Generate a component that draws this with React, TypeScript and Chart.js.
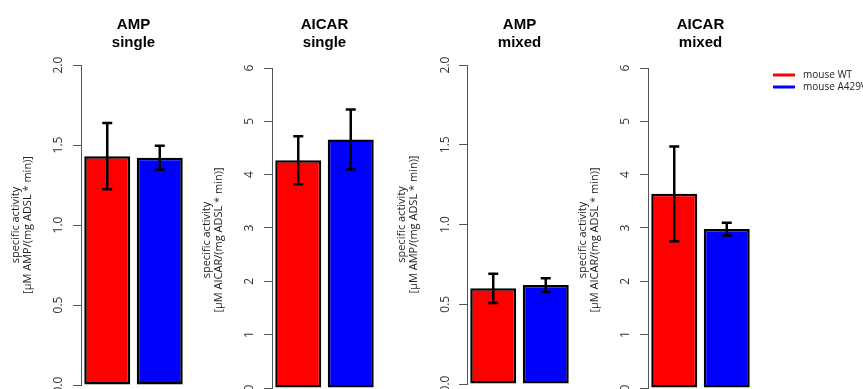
import React, { useEffect, useRef } from "react";
import { Chart, registerables } from "chart.js";

Chart.register(...registerables);

// ---- data ----
const seriesNames = ["mouse WT", "mouse A429V"];
const seriesColors = ["#FF0000", "#0000FF"];
const panelTitles = [
  ["AMP", "single"],
  ["AICAR", "single"],
  ["AMP", "mixed"],
  ["AICAR", "mixed"],
];
const axisTitles = [
  ["specific activity", "[µM AMP/(mg ADSL * min)]"],
  ["specific activity", "[µM AICAR/(mg ADSL * min)]"],
  ["specific activity", "[µM AMP/(mg ADSL * min)]"],
  ["specific activity", "[µM AICAR/(mg ADSL * min)]"],
];
const wtMeans = [1.43, 4.27, 0.6, 3.64];
const wtErrors = [0.207, 0.45, 0.092, 0.89];
const a429vMeans = [1.42, 4.66, 0.62, 2.98];
const a429vErrors = [0.075, 0.56, 0.043, 0.12];
const ampTicks = [0, 0.5, 1, 1.5, 2];
const aicarTicks = [0, 1, 2, 3, 4, 5, 6];
const panelTicks = [ampTicks, aicarTicks, ampTicks, aicarTicks];
const tickDecimals = [1, 0, 1, 0];
const axisMax = [2, 6, 2, 6];

// ---- layout (positions / sizes) ----
const CANVAS_H = 430;
const AXIS_W = 81;
const PLOT_W = 105;
const TICK_LEN = 8;
const panelLayout = [
  { axisX: 81, min: 0, titleBottom: 13, padBottom: 45, tickOffset: 22, padRight: 0 },
  { axisX: 272, min: -0.45, titleBottom: 16, padBottom: 18, tickOffset: 22, padRight: 0 },
  { axisX: 467, min: 0, titleBottom: 13, padBottom: 46, tickOffset: 21, padRight: 0 },
  { axisX: 648, min: -0.45, titleBottom: 16, padBottom: 18, tickOffset: 22, padRight: 110 },
];

Chart.defaults.font.family = "'Open Sans', 'DejaVu Sans', sans-serif";

const errorBarPlugin = {
  id: "errorBars",
  afterDatasetsDraw(chart: any) {
    const ctx = chart.ctx;
    const yScale = chart.scales.y;
    chart.data.datasets.forEach((ds: any, di: number) => {
      const meta = chart.getDatasetMeta(di);
      meta.data.forEach((bar: any, i: number) => {
        const v = ds.data[i];
        const e = ds.errors[i];
        const yTop = yScale.getPixelForValue(v + e);
        const yBot = yScale.getPixelForValue(v - e);
        ctx.save();
        ctx.strokeStyle = "#000";
        ctx.lineWidth = 2.5;
        ctx.lineCap = "butt";
        ctx.beginPath();
        ctx.moveTo(bar.x, yTop);
        ctx.lineTo(bar.x, yBot);
        ctx.moveTo(bar.x - 5, yTop);
        ctx.lineTo(bar.x + 5, yTop);
        ctx.moveTo(bar.x - 5, yBot);
        ctx.lineTo(bar.x + 5, yBot);
        ctx.stroke();
        ctx.restore();
      });
    });
  },
};

const sideLegendPlugin = {
  id: "sideLegend",
  afterDraw(chart: any) {
    const ctx = chart.ctx;
    const { right, top } = chart.chartArea;
    ctx.save();
    seriesNames.forEach((name, i) => {
      const y = top + 7 + i * 12;
      ctx.strokeStyle = seriesColors[i];
      ctx.lineWidth = 3;
      ctx.beginPath();
      ctx.moveTo(right + 20, y);
      ctx.lineTo(right + 42, y);
      ctx.stroke();
      ctx.fillStyle = "#222";
      ctx.font = "10px 'Open Sans', sans-serif";
      ctx.textBaseline = "middle";
      ctx.textAlign = "left";
      ctx.fillText(name, right + 50, y);
    });
    ctx.restore();
  },
};

function Panel({ index }: { index: number }) {
  const ref = useRef<HTMLCanvasElement | null>(null);
  const L = panelLayout[index];
  const width = AXIS_W + PLOT_W + L.padRight;
  useEffect(() => {
    if (!ref.current) return;
    const widestGuess = tickDecimals[index] === 1 ? 16.8 : 6.9;
    const chart = new Chart(ref.current, {
      type: "bar",
      data: {
        labels: seriesNames,
        datasets: [
          {
            label: panelTitles[index].join(" "),
            data: [wtMeans[index], a429vMeans[index]],
            errors: [wtErrors[index], a429vErrors[index]],
            backgroundColor: seriesColors,
            borderColor: "#000",
            borderWidth: 2.5,
            borderSkipped: false,
            categoryPercentage: 0.876,
            barPercentage: 1,
          } as any,
        ],
      },
      options: {
        responsive: false,
        animation: false,
        devicePixelRatio: 1,
        layout: { padding: { top: 0, left: 0, right: L.padRight, bottom: L.padBottom } },
        plugins: {
          legend: { display: false },
          tooltip: { enabled: false },
          title: {
            display: true,
            text: panelTitles[index],
            fullSize: false,
            color: "#000",
            font: { family: "'Liberation Sans', Arial, sans-serif", size: 15, weight: "bold", lineHeight: 1.2 },
            padding: { top: 16, bottom: L.titleBottom },
          },
        },
        scales: {
          x: { display: false },
          y: {
            min: L.min,
            max: axisMax[index],
            afterBuildTicks: (s: any) => {
              s.ticks = panelTicks[index].map((v) => ({ value: v }));
            },
            afterFit: (s: any) => {
              s.width = AXIS_W;
            },
            border: { display: true, color: "#555", width: 1 },
            grid: { drawOnChartArea: false, drawTicks: true, tickLength: TICK_LEN, color: "#555" },
            ticks: {
              minRotation: 90,
              maxRotation: 90,
              crossAlign: "center",
              padding: L.tickOffset - TICK_LEN - widestGuess / 2,
              color: "#333",
              font: { size: 12 },
              callback: (v: any) => Number(v).toFixed(tickDecimals[index]),
            },
            title: {
              display: true,
              text: axisTitles[index],
              color: "#222",
              font: { size: 11, lineHeight: 1.1 },
              padding: { top: 10, bottom: 0 },
            },
          } as any,
        },
      },
      plugins: index === 3 ? [errorBarPlugin, sideLegendPlugin] : [errorBarPlugin],
    } as any);
    return () => chart.destroy();
  }, [index]);
  return (
    <canvas
      ref={ref}
      width={width}
      height={CANVAS_H}
      style={{
        position: "absolute",
        left: L.axisX - AXIS_W,
        top: 0,
        width: width,
        height: CANVAS_H,
      }}
    />
  );
}

export default function App() {
  return (
    <div
      style={{
        position: "fixed",
        left: 0,
        top: 0,
        width: 863,
        height: 389,
        overflow: "hidden",
        background: "#fff",
      }}
    >
      {panelTitles.map((_, i) => (
        <Panel key={i} index={i} />
      ))}
    </div>
  );
}
